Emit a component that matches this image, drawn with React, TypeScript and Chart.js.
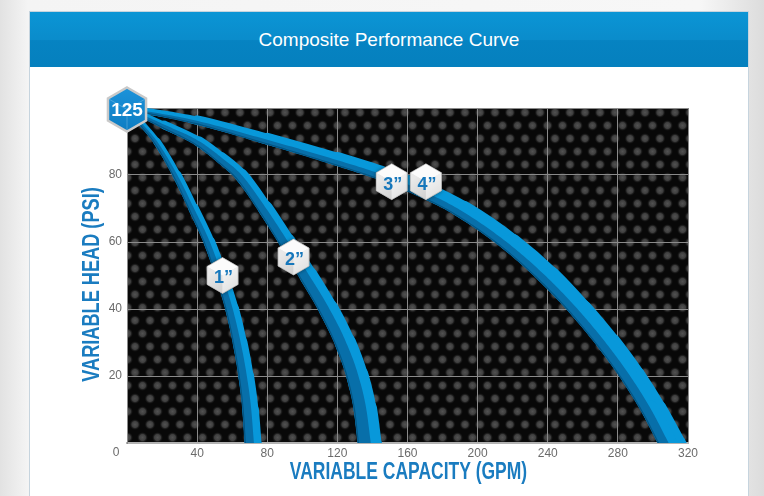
import React, { useEffect, useRef } from 'react';
import { Chart, registerables } from 'chart.js';

Chart.register(...registerables);

// ---------- text ----------
const chartTitle = 'Composite Performance Curve';
const xAxisTitle = 'VARIABLE CAPACITY (GPM)';
const yAxisTitle = 'VARIABLE HEAD (PSI)';
const originLabel = '0';

// ---------- axes ----------
const xTickValues = [0, 40, 80, 120, 160, 200, 240, 280, 320];
const xTickLabels = ['', '40', '80', '120', '160', '200', '240', '280', '320'];
const yTickValues = [0, 20, 40, 60, 80, 100];
const yTickLabels = ['', '20', '40', '60', '80', ''];

// ---------- series (capacity GPM, head PSI) ----------
const sizeLabels = ['1”', '2”', '3”', '4”'];

const capacity1 = [0, 9, 17, 28.5, 38, 47, 54, 60, 64.5, 68, 70.5, 72];
const head1 = [100, 95, 90, 80, 70, 60, 50, 40, 30, 20, 10, 0];

const capacity2 = [0, 21, 41, 54, 65, 79, 91.5, 103.5, 115, 124.5, 131.5, 136, 138.5];
const head2 = [100, 95, 90, 85, 80, 70, 60, 50, 40, 30, 20, 10, 0];

const capacity3 = [0, 36.5, 76, 115.5, 145.5, 165.5, 188, 216, 238, 256.5, 272.5, 286.5, 298.5, 308.5];
const head3 = [100, 96.5, 91, 85, 80, 75.8, 70, 60, 50, 40, 30, 20, 10, 0];

const capacity4 = [0, 40, 80, 120, 150, 170, 192, 220, 242, 260, 276, 290, 302, 312.5];
const head4 = [100, 96.5, 91, 85, 80, 75.8, 70, 60, 50, 40, 30, 20, 10, 0];

// size-badge anchors (GPM, PSI)
const badgeCapacity = [54.5, 95, 151, 170.5];
const badgeHead = [50, 55.5, 78, 78];
// start badge
const startLabel = '125';
const startCapacity = 0;
const startHead = 100;

// ---------- styles ----------
const BRIGHT = '#0898da';
const DARK = '#086fa9';
const DARKEST = '#045583';
const TITLE_BLUE = '#1a7cc0';
const FONT = '"Liberation Sans", Arial, Helvetica, sans-serif';
const bandStart = [3.5, 3.5, 3.5, 4];
const bandEnd = [17, 24, 18, 21];

function arcFractions(pts: any[]): number[] {
  const f = [0];
  let tot = 0;
  for (let i = 1; i < pts.length; i++) {
    tot += Math.hypot(pts[i].x - pts[i - 1].x, pts[i].y - pts[i - 1].y);
    f.push(tot);
  }
  return f.map((v) => (tot ? v / tot : 0));
}
function widthAt(f: number, i: number) {
  return bandStart[i] + (bandEnd[i] - bandStart[i]) * Math.pow(Math.max(0, Math.min(1, f)), 0.7);
}

function hexPath(ctx: CanvasRenderingContext2D, cx: number, cy: number, R: number) {
  const w = (R * Math.sqrt(3)) / 2;
  ctx.beginPath();
  ctx.moveTo(cx, cy - R);
  ctx.lineTo(cx + w, cy - R / 2);
  ctx.lineTo(cx + w, cy + R / 2);
  ctx.lineTo(cx, cy + R);
  ctx.lineTo(cx - w, cy + R / 2);
  ctx.lineTo(cx - w, cy - R / 2);
  ctx.closePath();
}

function poly(ctx: CanvasRenderingContext2D, p: number[][], fill: string | CanvasGradient) {
  ctx.beginPath();
  ctx.moveTo(p[0][0], p[0][1]);
  for (let i = 1; i < p.length; i++) ctx.lineTo(p[i][0], p[i][1]);
  ctx.closePath();
  ctx.fillStyle = fill;
  ctx.fill();
}

function drawCube(ctx: CanvasRenderingContext2D, cx: number, cy: number, R: number, text: string) {
  const w = (R * Math.sqrt(3)) / 2;
  const T = [cx, cy - R], UR = [cx + w, cy - R / 2], LR = [cx + w, cy + R / 2];
  const B = [cx, cy + R], LL = [cx - w, cy + R / 2], UL = [cx - w, cy - R / 2], C = [cx, cy];
  ctx.save();
  ctx.shadowColor = 'rgba(0,0,0,0.45)';
  ctx.shadowBlur = 4;
  hexPath(ctx, cx, cy, R);
  ctx.fillStyle = '#e6e6e6';
  ctx.fill();
  ctx.restore();
  poly(ctx, [T, UR, C, UL], '#fbfbfb');
  const gl = ctx.createLinearGradient(cx - w, cy, cx, cy + R);
  gl.addColorStop(0, '#e9e9e9');
  gl.addColorStop(1, '#cfcfcf');
  poly(ctx, [UL, C, B, LL], gl);
  const gr = ctx.createLinearGradient(cx, cy, cx + w, cy + R);
  gr.addColorStop(0, '#f2f2f2');
  gr.addColorStop(1, '#dcdcdc');
  poly(ctx, [C, UR, LR, B], gr);
  ctx.strokeStyle = 'rgba(170,170,170,0.8)';
  ctx.lineWidth = 0.8;
  hexPath(ctx, cx, cy, R);
  ctx.stroke();
  ctx.fillStyle = '#1677bb';
  ctx.font = `bold 18px ${FONT}`;
  ctx.textAlign = 'center';
  ctx.textBaseline = 'middle';
  ctx.fillText(text, cx + 1, cy + 3);
}

function drawStartBadge(ctx: CanvasRenderingContext2D, cx: number, cy: number, R: number, text: string) {
  const w = (R * Math.sqrt(3)) / 2;
  ctx.save();
  hexPath(ctx, cx, cy, R);
  const g = ctx.createLinearGradient(cx, cy - R, cx, cy + R);
  g.addColorStop(0, '#1d93da');
  g.addColorStop(1, '#0b7cc2');
  ctx.fillStyle = g;
  ctx.fill();
  ctx.strokeStyle = 'rgba(255,255,255,0.22)';
  ctx.lineWidth = 1;
  ctx.beginPath();
  ctx.moveTo(cx, cy);
  ctx.lineTo(cx, cy + R);
  ctx.moveTo(cx, cy);
  ctx.lineTo(cx - w, cy - R / 2);
  ctx.moveTo(cx, cy);
  ctx.lineTo(cx + w, cy - R / 2);
  ctx.stroke();
  hexPath(ctx, cx, cy, R);
  ctx.strokeStyle = '#c9c9c9';
  ctx.lineWidth = 2.5;
  ctx.stroke();
  ctx.fillStyle = '#ffffff';
  ctx.font = `bold 19px ${FONT}`;
  ctx.textAlign = 'center';
  ctx.textBaseline = 'middle';
  ctx.fillText(text, cx, cy + 1);
  ctx.restore();
}

let patternCache: CanvasPattern | null = null;
function carbonPattern(ctx: CanvasRenderingContext2D): CanvasPattern | null {
  if (patternCache) return patternCache;
  const tile = document.createElement('canvas');
  tile.width = 15;
  tile.height = 26;
  const t = tile.getContext('2d')!;
  t.fillStyle = '#080808';
  t.fillRect(0, 0, 15, 26);
  const dot = (x: number, y: number) => {
    const g = t.createRadialGradient(x, y, 0, x, y, 5.6);
    g.addColorStop(0, 'rgba(82,82,82,1)');
    g.addColorStop(0.55, 'rgba(62,62,62,1)');
    g.addColorStop(1, 'rgba(18,18,18,0)');
    t.fillStyle = g;
    t.beginPath();
    t.arc(x, y, 5.6, 0, Math.PI * 2);
    t.fill();
  };
  dot(7.5, 6.5);
  dot(0, 19.5);
  dot(15, 19.5);
  patternCache = ctx.createPattern(tile, 'repeat');
  return patternCache;
}

const decorPlugin = {
  id: 'decor',
  beforeDraw(chart: any) {
    const { ctx, chartArea: a } = chart;
    ctx.save();
    ctx.fillStyle = '#080808';
    ctx.fillRect(a.left, a.top, a.right - a.left, a.bottom - a.top);
    const p = carbonPattern(ctx);
    if (p) {
      ctx.fillStyle = p;
      ctx.fillRect(a.left, a.top, a.right - a.left, a.bottom - a.top);
    }
    ctx.restore();
  },
  afterDatasetDraw(chart: any, args: any) {
    const i = args.index;
    const pts = args.meta.data as any[];
    if (!pts || pts.length < 2) return;
    const fr = arcFractions(pts);
    const N = 20;
    const samples: { x: number; y: number; tx: number; ty: number; f: number }[] = [];
    for (let k = 0; k < pts.length - 1; k++) {
      const a = pts[k], b = pts[k + 1];
      const p0x = a.x, p0y = a.y;
      const p1x = a.cp2x ?? a.x, p1y = a.cp2y ?? a.y;
      const p2x = b.cp1x ?? b.x, p2y = b.cp1y ?? b.y;
      const p3x = b.x, p3y = b.y;
      for (let s = k === 0 ? 0 : 1; s <= N; s++) {
        const t = s / N, u = 1 - t;
        const x = u * u * u * p0x + 3 * u * u * t * p1x + 3 * u * t * t * p2x + t * t * t * p3x;
        const y = u * u * u * p0y + 3 * u * u * t * p1y + 3 * u * t * t * p2y + t * t * t * p3y;
        let tx = 3 * u * u * (p1x - p0x) + 6 * u * t * (p2x - p1x) + 3 * t * t * (p3x - p2x);
        let ty = 3 * u * u * (p1y - p0y) + 6 * u * t * (p2y - p1y) + 3 * t * t * (p3y - p2y);
        let L = Math.hypot(tx, ty);
        if (L < 1e-6) {
          tx = p3x - p0x;
          ty = p3y - p0y;
          L = Math.hypot(tx, ty) || 1;
        }
        samples.push({ x, y, tx: tx / L, ty: ty / L, f: fr[k] + (fr[k + 1] - fr[k]) * t });
      }
    }
    const last = samples[samples.length - 1];
    samples.push({ x: last.x + last.tx * 12, y: last.y + last.ty * 12, tx: last.tx, ty: last.ty, f: 1 });
    const outer: number[][] = [];
    const inner: number[][] = [];
    const edge: number[][] = [];
    for (const s of samples) {
      const W = widthAt(s.f, i);
      const nx = -s.ty, ny = s.tx; // inner side (down / left)
      outer.push([s.x - nx * W * 0.04, s.y - ny * W * 0.04]);
      inner.push([s.x + nx * (W / 2 + 0.3), s.y + ny * (W / 2 + 0.3)]);
      edge.push([s.x + nx * (W / 2 - 0.6), s.y + ny * (W / 2 - 0.6)]);
    }
    const { ctx, chartArea: ca } = chart;
    ctx.save();
    ctx.beginPath();
    ctx.rect(ca.left, ca.top, ca.right - ca.left, ca.bottom - ca.top);
    ctx.clip();
    const lastW = widthAt(1, i);
    ctx.beginPath();
    const e0 = samples[samples.length - 2];
    ctx.moveTo(e0.x, e0.y);
    ctx.lineTo(last.x + last.tx * 12, last.y + last.ty * 12);
    ctx.strokeStyle = BRIGHT;
    ctx.lineWidth = lastW;
    ctx.lineCap = 'butt';
    ctx.stroke();
    ctx.beginPath();
    ctx.moveTo(outer[0][0], outer[0][1]);
    for (const p of outer) ctx.lineTo(p[0], p[1]);
    for (let k = inner.length - 1; k >= 0; k--) ctx.lineTo(inner[k][0], inner[k][1]);
    ctx.closePath();
    ctx.fillStyle = DARK;
    ctx.fill();
    ctx.beginPath();
    ctx.moveTo(edge[0][0], edge[0][1]);
    for (const p of edge) ctx.lineTo(p[0], p[1]);
    ctx.strokeStyle = DARKEST;
    ctx.lineWidth = 1.2;
    ctx.stroke();
    ctx.restore();
  },
  afterDatasetsDraw(chart: any) {
    const { ctx } = chart;
    const xs = chart.scales.x, ys = chart.scales.y;
    ctx.save();
    for (let k = 0; k < sizeLabels.length; k++) {
      drawCube(ctx, xs.getPixelForValue(badgeCapacity[k]), ys.getPixelForValue(badgeHead[k]), 18, sizeLabels[k]);
    }
    drawStartBadge(ctx, xs.getPixelForValue(startCapacity), ys.getPixelForValue(startHead) + 1.5, 22, startLabel);
    ctx.restore();
  },
  afterDraw(chart: any) {
    const { ctx, chartArea: a } = chart;
    ctx.save();
    ctx.fillStyle = '#6b6b6b';
    ctx.font = `12px ${FONT}`;
    ctx.textAlign = 'center';
    ctx.textBaseline = 'middle';
    ctx.fillText(originLabel, a.left - 11, a.bottom + 10);
    ctx.fillStyle = TITLE_BLUE;
    ctx.font = `bold 23px ${FONT}`;
    ctx.save();
    ctx.translate((a.left + a.right) / 2 + 1, a.bottom + 30);
    ctx.scale(0.76, 1);
    ctx.fillText(xAxisTitle, 0, 0);
    ctx.restore();
    ctx.save();
    ctx.translate(a.left - 34, (a.top + a.bottom) / 2 + 9);
    ctx.rotate(-Math.PI / 2);
    ctx.scale(0.79, 1);
    ctx.fillText(yAxisTitle, 0, 0);
    ctx.restore();
    ctx.restore();
  },
};

const seriesX = [capacity1, capacity2, capacity3, capacity4];
const seriesY = [head1, head2, head3, head4];

export default function App() {
  const canvasRef = useRef<HTMLCanvasElement | null>(null);

  useEffect(() => {
    const canvas = canvasRef.current;
    if (!canvas) return;
    const datasets = seriesX.map((xs, i) => ({
      label: sizeLabels[i],
      data: xs.map((x, k) => ({ x, y: seriesY[i][k] })),
      borderColor: BRIGHT,
      backgroundColor: BRIGHT,
      borderWidth: bandEnd[i],
      borderCapStyle: 'round' as const,
      borderJoinStyle: 'round' as const,
      pointRadius: 0,
      pointHoverRadius: 0,
      cubicInterpolationMode: 'monotone' as const,
      fill: false,
      clip: 0,
      segment: {
        borderWidth: (sc: any) => {
          const meta = sc.chart.getDatasetMeta(i);
          const fr = arcFractions(meta.data);
          return widthAt((fr[sc.p0DataIndex] + fr[sc.p1DataIndex]) / 2, i);
        },
      },
    }));

    const chart = new Chart(canvas, {
      type: 'line',
      data: { datasets },
      options: {
        responsive: false,
        animation: false,
        events: [],
        layout: { padding: { top: 41, right: 60, left: 0, bottom: 0 } },
        plugins: { legend: { display: false }, tooltip: { enabled: false }, title: { display: false } },
        scales: {
          x: {
            type: 'linear',
            min: xTickValues[0],
            max: xTickValues[xTickValues.length - 1],
            afterBuildTicks: (s: any) => {
              s.ticks = xTickValues.map((v) => ({ value: v }));
            },
            afterFit: (s: any) => {
              s.height = 53;
            },
            ticks: {
              autoSkip: false,
              maxRotation: 0,
              padding: 3,
              color: '#6b6b6b',
              font: { family: FONT, size: 12 },
              callback: (_v: any, idx: number) => xTickLabels[idx],
            },
            grid: { color: '#8a8a8a', lineWidth: 1, drawTicks: false },
            border: { display: true, color: '#b2b2b2', width: 2 },
          },
          y: {
            type: 'linear',
            min: yTickValues[0],
            max: yTickValues[yTickValues.length - 1],
            afterBuildTicks: (s: any) => {
              s.ticks = yTickValues.map((v) => ({ value: v }));
            },
            afterFit: (s: any) => {
              s.width = 97;
            },
            ticks: {
              autoSkip: false,
              padding: 5,
              color: '#6b6b6b',
              font: { family: FONT, size: 12 },
              callback: (_v: any, idx: number) => yTickLabels[idx],
            },
            grid: { color: '#8a8a8a', lineWidth: 1, drawTicks: false },
            border: { display: true, color: '#8a8a8a', width: 1 },
          },
        },
      } as any,
      plugins: [decorPlugin as any],
    });
    return () => chart.destroy();
  }, []);

  return (
    <div
      style={{
        position: 'absolute',
        left: 0,
        top: 0,
        width: 764,
        height: 496,
        overflow: 'hidden',
        background: 'linear-gradient(90deg, #e2e2e2 0px, #f4f4f4 28px, #f7f7f7 700px, #dcdcdc 764px)',
      }}
    >
      <div
        style={{
          position: 'absolute',
          left: 30,
          top: 12,
          width: 718,
          height: 484,
          background: '#ffffff',
          boxShadow: '0 0 0 1px #c6d4de',
        }}
      >
        <div
          style={{
            height: 55,
            background: 'linear-gradient(180deg, #0b95d5 0%, #0a8ccb 50%, #0683c2 52%, #0580be 100%)',
            color: '#ffffff',
            fontFamily: FONT,
            fontSize: 19,
            display: 'flex',
            alignItems: 'center',
            justifyContent: 'center',
          }}
        >
          {chartTitle}
        </div>
      </div>
      <canvas
        ref={canvasRef}
        width={718}
        height={429}
        style={{ position: 'absolute', left: 30, top: 67, width: 718, height: 429 }}
      />
    </div>
  );
}
